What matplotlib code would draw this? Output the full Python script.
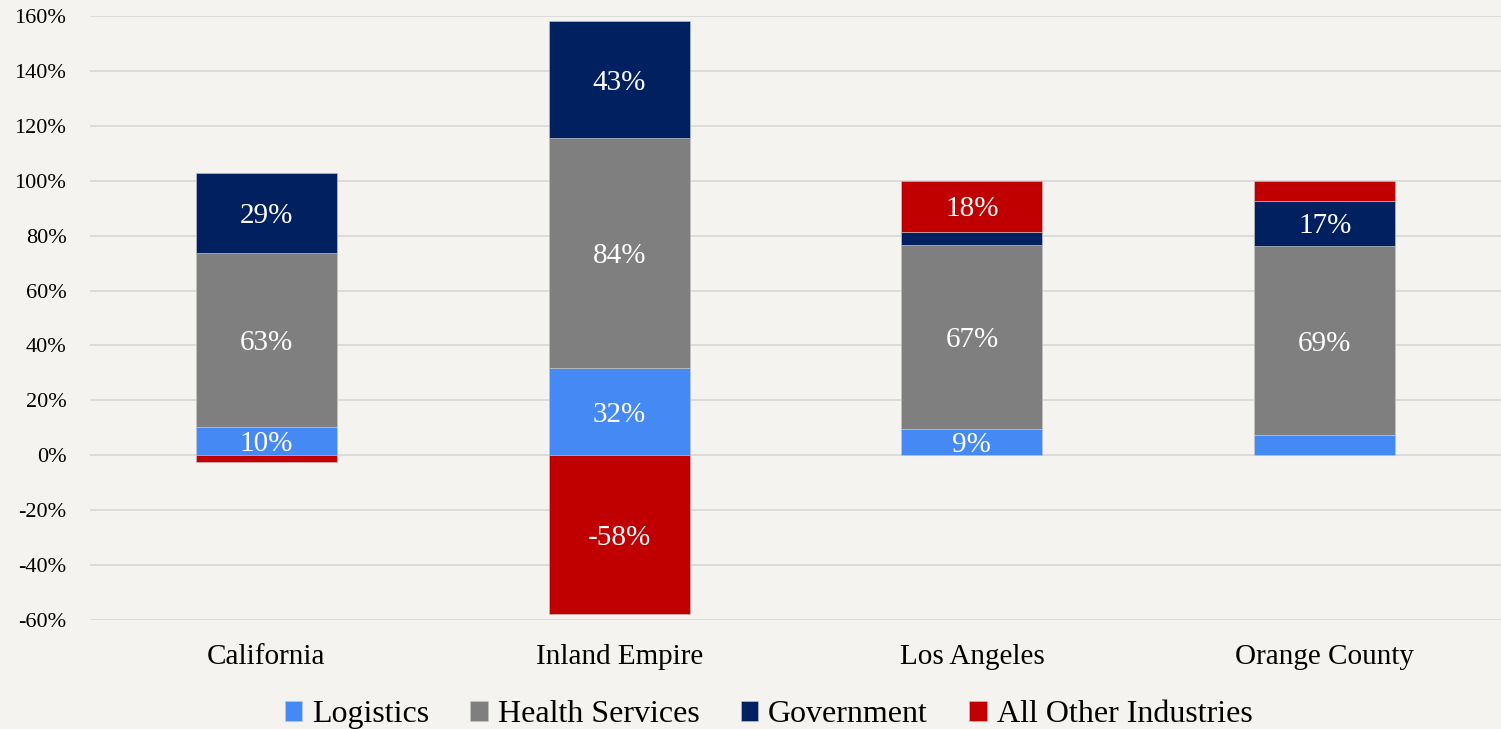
import numpy as np
import matplotlib.pyplot as plt

# Regional share of job growth by industry (%)
regions = ["California", "Inland Empire", "Los Angeles", "Orange County"]
logistics = [10.4, 31.7, 9.4, 7.3]
health = [63.4, 83.8, 67.3, 68.9]
government = [29.1, 42.6, 4.8, 16.6]
other = [-2.4, -57.9, 18.5, 7.2]

series = ["Logistics", "Health Services", "Government", "All Other Industries"]
colors = ["#4589F5", "#7F7F7F", "#002060", "#C00000"]
bg = "#F4F3EF"

plt.rcParams['font.family'] = ['Liberation Serif', 'DejaVu Serif']

fig = plt.figure(figsize=(15.01, 7.29), dpi=100, facecolor=bg)
ax = fig.add_axes([0.06, 0.1495, 0.94, 0.8285])
ax.set_facecolor(bg)

x = np.arange(len(regions))
width = 0.4
pos_base = np.zeros(len(regions))
neg_base = np.zeros(len(regions))

for name, vals, col in zip(series, [logistics, health, government, other], colors):
    vals = np.array(vals)
    bottoms = np.where(vals >= 0, pos_base, neg_base)
    ax.bar(x, vals, width, bottom=bottoms, color=col, label=name,
           edgecolor="#c8c8c8", linewidth=0.4, zorder=3)
    for xi, b, v in zip(x, bottoms, vals):
        if abs(v) >= 8:
            ax.text(xi, b + v / 2, f"{round(v):.0f}%", ha="center", va="center_baseline",
                    color="white", fontsize=21, zorder=4)
    pos_base = np.where(vals >= 0, pos_base + vals, pos_base)
    neg_base = np.where(vals < 0, neg_base + vals, neg_base)

ax.set_xlim(-0.5, 3.5)
ax.set_ylim(-60, 160)
ax.set_yticks(np.arange(-60, 161, 20))
ax.set_yticklabels([f"{t}%" for t in range(-60, 161, 20)], fontsize=16)
ax.set_xticks(x)
ax.set_xticklabels(regions, fontsize=21)
ax.tick_params(axis="both", length=0)
ax.tick_params(axis="y", pad=17)
ax.tick_params(axis="x", pad=17)
ax.grid(axis="y", color="#D9D9D9", linewidth=1.3, zorder=0)
for s in ax.spines.values():
    s.set_visible(False)

fig.legend(loc="lower center", bbox_to_anchor=(0.512, -0.04), ncol=4, frameon=False,
           fontsize=23, handlelength=0.55, handleheight=0.55, handletextpad=0.3,
           columnspacing=1.3)

fig.savefig("out.png", dpi=100, facecolor=bg)
